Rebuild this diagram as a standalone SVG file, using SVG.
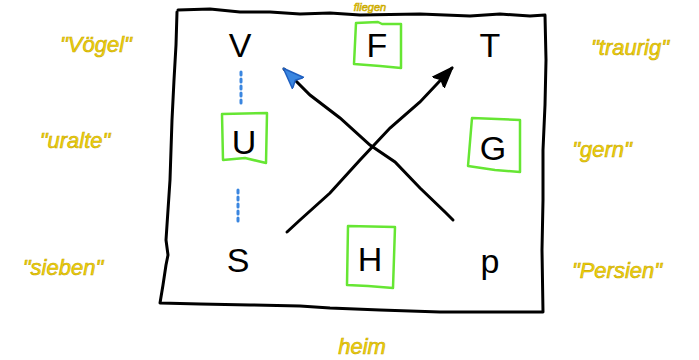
<svg xmlns="http://www.w3.org/2000/svg" width="699" height="360" viewBox="0 0 699 360">
<style>
.frame{fill:none;stroke:#000;stroke-width:3;stroke-linejoin:round;stroke-linecap:round}
.box{fill:none;stroke:#66e633;stroke-width:2.5;stroke-linejoin:round}
.lt{font-family:"Liberation Sans",Arial,sans-serif;font-size:34px;fill:#000;text-anchor:middle}
.yw{font-family:"Liberation Sans",Arial,sans-serif;font-size:22px;font-style:italic;fill:#f2d40a;stroke:#c9a800;stroke-width:0.6;text-anchor:middle}
.dot{stroke:#3a86e0;stroke-width:3;stroke-dasharray:3 4;stroke-linecap:round;fill:none}
.con{fill:none;stroke:#000;stroke-width:3;stroke-linecap:round}
</style>
<defs>
<marker id="ab" markerWidth="24" markerHeight="24" refX="20" refY="10" orient="auto" markerUnits="userSpaceOnUse"><path d="M0,2 L21,10 L0,18 L4,10 Z" fill="#3a86e0" stroke="#1f5fc0" stroke-width="1.5" stroke-linejoin="round"/></marker>
<marker id="ak" markerWidth="24" markerHeight="24" refX="20" refY="10" orient="auto" markerUnits="userSpaceOnUse"><path d="M0,2 L21,10 L0,18 L4,10 Z" fill="#000" stroke="#000" stroke-width="1.5" stroke-linejoin="round"/></marker>
</defs>
<rect width="699" height="360" fill="#fff"/>
<g id="frame">
<path class="frame" d="M178,10 L210,9 L240,12 L270,12 L300,14 L330,13 L360,15 L420,14 L470,16 L500,14 L530,16 L545,15 L546,60 L545,105 L543,150 L543,200 L542,250 L543,312 L500,312 L440,312 L380,310 L330,308 L300,306 L250,305 L200,304 L160,303 L163,285 L166,265 L168,255 L166,240 L170,180 L171,150 L172,120 L174,80 L176,45 L177,12"/>
</g>
<g id="connectors">
<path class="dot" d="M241,72 L241,104"/>
<path class="dot" d="M238,190 L238,222"/>
<path class="con" d="M453,220 L445,212 L420,188 L395,162 L370,145 L340,118 L310,95 L284,69" marker-end="url(#ab)"/>
<path class="con" d="M287,232 L300,220 L330,193 L360,160 L390,128 L420,102 L452,68" marker-end="url(#ak)"/>
</g>
<g id="node-V"><text class="lt" x="240" y="57">V</text></g>
<g id="node-F"><path class="box" d="M356,23 L378,22 L382,24 L401,24 L401,68 L380,66 L354,64 Z"/><text class="lt" x="377" y="57">F</text></g>
<g id="node-T"><text class="lt" x="490" y="57">T</text></g>
<g id="node-U"><path class="box" d="M222,114 L267,113 L266,163 L245,158 L223,160 Z"/><text class="lt" x="244" y="154">U</text></g>
<g id="node-G"><path class="box" d="M472,118 L520,120 L520,172 L495,170 L468,166 Z"/><text class="lt" x="493" y="160">G</text></g>
<g id="node-S"><text class="lt" x="238" y="272">S</text></g>
<g id="node-H"><path class="box" d="M348,226 L395,227 L393,288 L368,286 L347,285 Z"/><text class="lt" x="370" y="271">H</text></g>
<g id="node-P"><text class="lt" x="490" y="273">p</text></g>
<g id="labels">
<text class="yw" x="370" y="11" style="font-size:11px">fliegen</text>
<text class="yw" x="96" y="52">"Vögel"</text>
<text class="yw" x="75" y="148">"uralte"</text>
<text class="yw" x="63" y="275">"sieben"</text>
<text class="yw" x="630" y="55">"traurig"</text>
<text class="yw" x="602" y="157">"gern"</text>
<text class="yw" x="617" y="278">"Persien"</text>
<text class="yw" x="362" y="354">heim</text>
</g>
</svg>
